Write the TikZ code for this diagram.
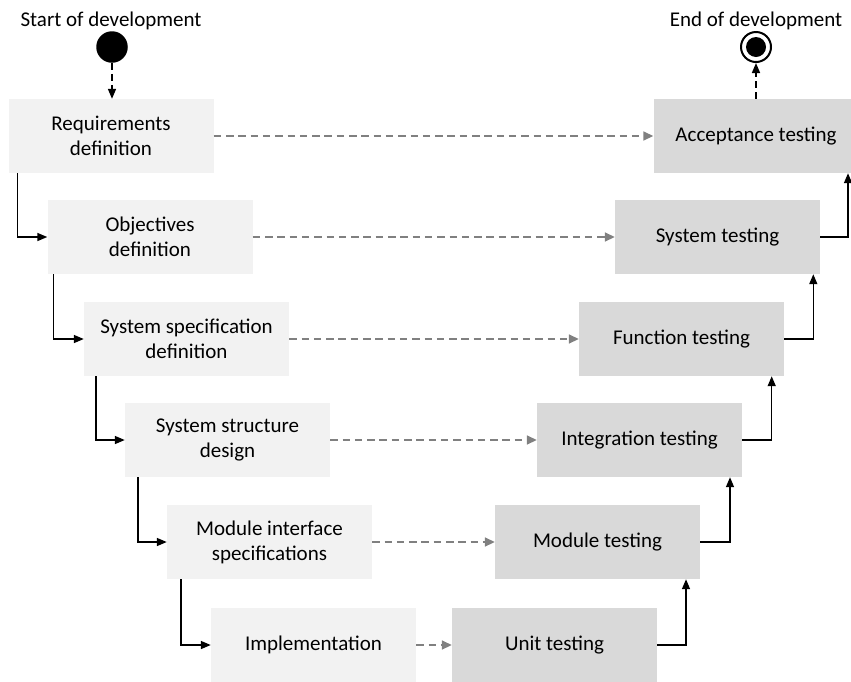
\documentclass[tikz,border=0pt]{standalone}
\usepackage{fontspec}
\setmainfont{Carlito}
\usetikzlibrary{arrows.meta,calc}
\definecolor{lightbox}{HTML}{F2F2F2}
\definecolor{darkbox}{HTML}{D9D9D9}
\definecolor{tracegrey}{HTML}{808080}
\begin{document}
\begin{tikzpicture}[x=1pt,y=-1pt,
  phase/.style={fill=#1, minimum width=205pt, minimum height=74pt, inner sep=0pt,
                align=center, font=\fontsize{21}{25}\selectfont},
  design/.style={phase=lightbox},
  test/.style={phase=darkbox},
  label/.style={font=\fontsize{21}{25}\selectfont, anchor=base, inner sep=0pt},
  flow/.style={line width=1.5pt, -{Triangle[length=10pt,width=8pt]}},
  terminal/.style={line width=1.6pt, dash pattern=on 7pt off 4pt, -{Triangle[length=10pt,width=8pt]}},
  trace/.style={draw=tracegrey, line width=1.6pt, dash pattern=on 7.5pt off 4.8pt,
                -{Triangle[length=10pt,width=9pt,fill=tracegrey]}},
]
\useasboundingbox (0,0) rectangle (851,681);

% design phases (left branch)
\node[design] (req)    at (111,136)   {Requirements\\definition};
\node[design] (obj)    at (150,237)   {Objectives\\definition};
\node[design] (spec)   at (186.5,339) {System specification\\definition};
\node[design] (struct) at (227.5,440) {System structure\\design};
\node[design] (modif)  at (269.5,542) {Module interface\\specifications};
\node[design] (impl)   at (313.5,645) {Implementation};

% test phases (right branch)
\node[test] (acc)      at (756,136)   {Acceptance testing};
\node[test] (systest)  at (717.5,237) {System testing};
\node[test] (functest) at (681.5,339) {Function testing};
\node[test] (integ)    at (639.5,440) {Integration testing};
\node[test] (modtest)  at (597.5,542) {Module testing};
\node[test] (unit)     at (554.5,645) {Unit testing};

% start and end markers
\node[label] (startlabel) at (111,26) {Start of development};
\node[label] (endlabel)   at (756,26) {End of development};
\node[circle, fill=black, minimum size=31.5pt, inner sep=0pt] (start) at (112,47) {};
\node[circle, draw=black, line width=2pt, minimum size=30pt, inner sep=0pt] (finish) at (756,47) {};
\node[circle, fill=black, minimum size=20pt, inner sep=0pt] (finishcore) at (finish) {};

\draw[terminal] (start.south) -- (start.south |- req.north);
\draw[terminal] (acc.north) -- (finish.south);

% descent through the design phases
\draw[flow] ([xshift=9pt]req.south west)     |- (obj.west);
\draw[flow] ([xshift=6pt]obj.south west)     |- (spec.west);
\draw[flow] ([xshift=12pt]spec.south west)   |- (struct.west);
\draw[flow] ([xshift=13pt]struct.south west) |- (modif.west);
\draw[flow] ([xshift=14pt]modif.south west)  |- (impl.west);

% ascent through the test phases
\draw[flow] (unit.east)     -| ([xshift=88.5pt]modtest.south);
\draw[flow] (modtest.east)  -| ([xshift=90.5pt]integ.south);
\draw[flow] (integ.east)    -| ([xshift=90.2pt]functest.south);
\draw[flow] (functest.east) -| ([xshift=95.8pt]systest.south);
\draw[flow] (systest.east)  -| ([xshift=92pt]acc.south);

% correspondence between design and test levels
\draw[trace] (req.east)    -- (acc.west);
\draw[trace] (obj.east)    -- (systest.west);
\draw[trace] (spec.east)   -- (functest.west);
\draw[trace] (struct.east) -- (integ.west);
\draw[trace] (modif.east)  -- (modtest.west);
\draw[trace] (impl.east)   -- (unit.west);
\end{tikzpicture}
\end{document}
